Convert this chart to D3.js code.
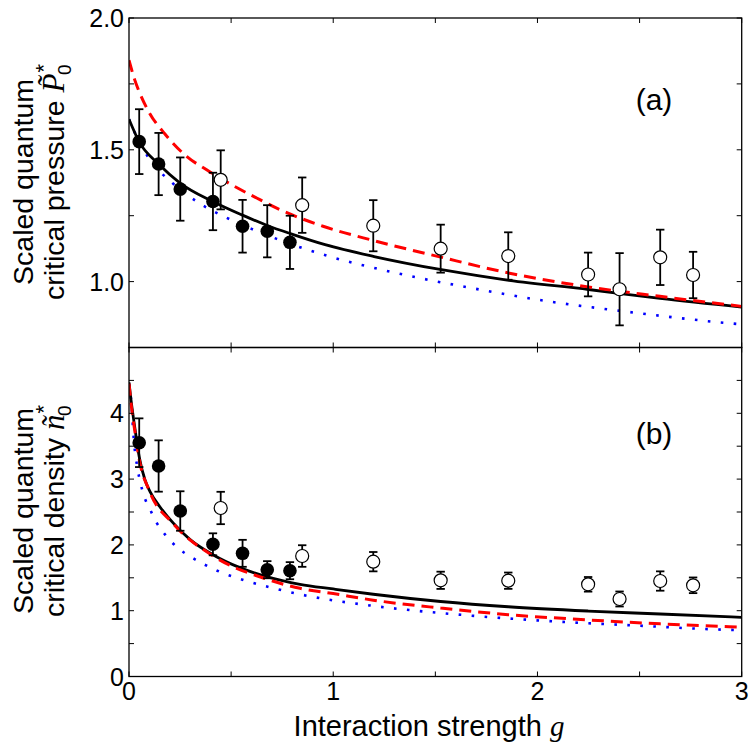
<!DOCTYPE html>
<html>
<head>
<meta charset="utf-8">
<script src="https://cdn.jsdelivr.net/npm/d3@7"></script>
<style>
  body { margin: 0; background: #fff; }
  svg { display: block; }
  text { font-family: "Liberation Sans", Arial, sans-serif; fill: #000; }
  .math { font-family: "Liberation Serif", "DejaVu Serif", serif; font-style: italic; }
</style>
</head>
<body>
<svg id="chart" width="750" height="749"></svg>
<script>
// ---------- data ----------
const gFilled = [0.05, 0.145, 0.251, 0.411, 0.556, 0.677, 0.788];
const gOpen = [0.449, 0.848, 1.196, 1.526, 1.857, 2.248, 2.402, 2.601, 2.762];

const pFilled = [1.531, 1.446, 1.351, 1.304, 1.210, 1.191, 1.149];
const pFilledErr = [0.123, 0.118, 0.120, 0.109, 0.100, 0.099, 0.101];
const pOpen = [1.386, 1.290, 1.212, 1.125, 1.097, 1.027, 0.971, 1.092, 1.025];
const pOpenErr = [0.112, 0.105, 0.097, 0.091, 0.090, 0.083, 0.137, 0.105, 0.088];

const nFilled = [3.553, 3.199, 2.515, 2.009, 1.872, 1.623, 1.608];
const nFilledErr = [0.37, 0.39, 0.30, 0.167, 0.205, 0.13, 0.13];
const nOpen = [2.561, 1.831, 1.745, 1.462, 1.456, 1.401, 1.178, 1.451, 1.386];
const nOpenErr = [0.246, 0.164, 0.147, 0.131, 0.124, 0.111, 0.114, 0.147, 0.119];

// theory curves, panel (a)
const gPBlack = [0, 0.05, 0.145, 0.25, 0.41, 0.55, 0.68, 0.79, 0.96, 1.2, 1.53, 1.86, 2.25, 2.6, 3.0];
const pBlack  = [1.616, 1.53, 1.446, 1.374, 1.304, 1.254, 1.212, 1.182, 1.140, 1.095, 1.045, 1.005, 0.970, 0.936, 0.903];
const gPRed = [0, 0.026, 0.05, 0.1, 0.176, 0.282, 0.38, 0.51, 0.625, 0.739, 0.95, 1.196, 1.526, 1.857, 2.248, 2.6, 3.0];
const pRed  = [1.84, 1.77, 1.72, 1.64, 1.56, 1.475, 1.424, 1.364, 1.317, 1.273, 1.21, 1.156, 1.093, 1.033, 0.98, 0.944, 0.906];
const gPBlue = [0, 0.026, 0.1, 0.217, 0.343, 0.47, 0.597, 0.723, 0.975, 1.294, 1.674, 2.054, 2.436, 2.94, 3.0];
const pBlue  = [1.616, 1.569, 1.465, 1.371, 1.298, 1.245, 1.201, 1.162, 1.097, 1.035, 0.976, 0.925, 0.886, 0.842, 0.838];

// theory curves, panel (b)
const gNBlack = [0, 0.01, 0.03, 0.05, 0.078, 0.103, 0.151, 0.217, 0.298, 0.413, 0.543, 0.674, 0.837, 1.0, 1.196, 1.526, 1.857, 2.248, 2.601, 3.0];
const nBlack  = [4.47, 4.2, 3.75, 3.34, 2.99, 2.81, 2.58, 2.33, 2.085, 1.847, 1.654, 1.517, 1.40, 1.33, 1.25, 1.14, 1.06, 0.995, 0.95, 0.90];
const gNRed = [0, 0.01, 0.03, 0.05, 0.1, 0.217, 0.413, 0.674, 0.837, 1.0, 1.196, 1.526, 1.857, 2.248, 2.601, 3.0];
const nRed  = [4.45, 4.15, 3.7, 3.3, 2.82, 2.32, 1.83, 1.48, 1.34, 1.26, 1.16, 1.04, 0.94, 0.86, 0.80, 0.75];
const gNBlue = [0, 0.013, 0.021, 0.043, 0.057, 0.075, 0.103, 0.135, 0.181, 0.241, 0.307, 0.367, 0.432, 0.56, 0.69, 0.878, 1.188, 1.636, 2.077, 2.46, 2.966, 3.0];
const nBlue  = [4.45, 4.10, 3.70, 3.14, 2.93, 2.73, 2.54, 2.34, 2.14, 1.95, 1.81, 1.705, 1.608, 1.467, 1.356, 1.223, 1.076, 0.935, 0.838, 0.778, 0.707, 0.705];

// ticks
const xTicks = [0, 0.5, 1, 1.5, 2, 2.5, 3];
const xTickLabels = [0, 1, 2, 3];
const pTicks = [0.75, 1.0, 1.25, 1.5, 1.75, 2.0];
const pTickLabels = [1.0, 1.5, 2.0];
const nTicks = [0, 0.5, 1, 1.5, 2, 2.5, 3, 3.5, 4, 4.5, 5];
const nTickLabels = [0, 1, 2, 3, 4];

// ---------- layout ----------
const svg = d3.select("#chart");
const L = 129, R = 741.7;
const x = d3.scaleLinear().domain([0, 3]).range([L, R]);
const yP = d3.scaleLinear().domain([0.75, 2.0]).range([347.5, 18]);
const yN = d3.scaleLinear().domain([0, 5]).range([676.5, 347.5]);
const TL = 5;

function panel(y, ticks, labels, fmt, clipId, curves, filled, filledErr, openV, openErr, tag, tagY) {
  const y0 = y.range()[0], y1 = y.range()[1];
  svg.append("clipPath").attr("id", clipId)
    .append("rect").attr("x", L).attr("y", y1).attr("width", R - L).attr("height", y0 - y1);
  const g = svg.append("g");
  const cg = g.append("g").attr("clip-path", `url(#${clipId})`);
  curves.forEach(c => {
    const line = d3.line().x(d => x(d[0])).y(d => y(d[1])).curve(d3.curveMonotoneX);
    cg.append("path").datum(d3.zip(c.gx, c.v))
      .attr("d", line).attr("fill", "none")
      .attr("stroke", c.color).attr("stroke-width", c.w)
      .attr("stroke-dasharray", c.dash || null);
  });
  const eb = (gs, vs, es) => {
    gs.forEach((gv, i) => {
      const cx = x(gv), t = y(vs[i] + es[i]), b = y(vs[i] - es[i]);
      g.append("line").attr("x1", cx).attr("x2", cx).attr("y1", t).attr("y2", b).attr("stroke", "#000").attr("stroke-width", 1.8);
      [t, b].forEach(yy => g.append("line").attr("x1", cx - 4.2).attr("x2", cx + 4.2).attr("y1", yy).attr("y2", yy).attr("stroke", "#000").attr("stroke-width", 1.8));
    });
  };
  eb(gFilled, filled, filledErr);
  eb(gOpen, openV, openErr);
  g.selectAll(null).data(d3.zip(gFilled, filled)).join("circle")
    .attr("cx", d => x(d[0])).attr("cy", d => y(d[1])).attr("r", 6.8).attr("fill", "#000");
  g.selectAll(null).data(d3.zip(gOpen, openV)).join("circle")
    .attr("cx", d => x(d[0])).attr("cy", d => y(d[1])).attr("r", 6.5).attr("fill", "#fff").attr("stroke", "#000").attr("stroke-width", 1.2);
  g.append("rect").attr("x", L).attr("y", y1).attr("width", R - L).attr("height", y0 - y1)
    .attr("fill", "none").attr("stroke", "#000").attr("stroke-width", 1.3);
  xTicks.forEach(t => {
    g.append("line").attr("x1", x(t)).attr("x2", x(t)).attr("y1", y0).attr("y2", y0 - TL).attr("stroke", "#000");
    g.append("line").attr("x1", x(t)).attr("x2", x(t)).attr("y1", y1).attr("y2", y1 + TL).attr("stroke", "#000");
  });
  ticks.forEach(t => {
    g.append("line").attr("x1", L).attr("x2", L + TL).attr("y1", y(t)).attr("y2", y(t)).attr("stroke", "#000");
    g.append("line").attr("x1", R).attr("x2", R - TL).attr("y1", y(t)).attr("y2", y(t)).attr("stroke", "#000");
  });
  labels.forEach(t => {
    g.append("text").attr("x", L - 5).attr("y", y(t)).attr("dy", "0.36em")
      .attr("text-anchor", "end").attr("font-size", 25).text(fmt(t));
  });
  g.append("text").attr("x", 654).attr("y", tagY).attr("text-anchor", "middle")
    .attr("font-size", 30).text(tag);
}

panel(yP, pTicks, pTickLabels, d3.format(".1f"), "clipA",
  [
    {gx: gPBlue, v: pBlue, color: "#0000ff", w: 2.6, dash: "2.6 10.4"},
    {gx: gPBlack, v: pBlack, color: "#000", w: 2.8},
    {gx: gPRed, v: pRed, color: "#ff0000", w: 3, dash: "12 7"}
  ],
  pFilled, pFilledErr, pOpen, pOpenErr, "(a)", 110);

panel(yN, nTicks, nTickLabels, d3.format("d"), "clipB",
  [
    {gx: gNBlue, v: nBlue, color: "#0000ff", w: 2.6, dash: "2.6 10.4"},
    {gx: gNBlack, v: nBlack, color: "#000", w: 2.8},
    {gx: gNRed, v: nRed, color: "#ff0000", w: 3, dash: "12 7"}
  ],
  nFilled, nFilledErr, nOpen, nOpenErr, "(b)", 444);

xTickLabels.forEach(t => {
  svg.append("text").attr("x", x(t)).attr("y", 700).attr("text-anchor", "middle")
    .attr("font-size", 25).text(t);
});

const xt = svg.append("text").attr("x", 429).attr("y", 736).attr("text-anchor", "middle").attr("font-size", 29);
xt.append("tspan").text("Interaction strength ");
xt.append("tspan").attr("class", "math").text("g");

function ytitle(cy, word, sym) {
  const gg = svg.append("g").attr("transform", `translate(0,${cy}) rotate(-90)`);
  gg.append("text").attr("x", 0).attr("y", 33).attr("text-anchor", "middle").attr("font-size", 28.5).text("Scaled quantum");
  const t2 = gg.append("text").attr("x", 0).attr("y", 64).attr("text-anchor", "middle").attr("font-size", 28.5);
  t2.append("tspan").text(word + " ");
  t2.append("tspan").attr("class", "math").attr("font-size", 31).text(sym);
  t2.append("tspan").attr("font-size", 22).attr("dy", -13).attr("dx", 1).text("*");
  t2.append("tspan").attr("font-size", 19).attr("dy", 20).attr("dx", -11).text("0");
}
ytitle(182, "critical pressure", "P\u0303");
ytitle(511, "critical density", "n\u0303");
</script>
</body>
</html>
